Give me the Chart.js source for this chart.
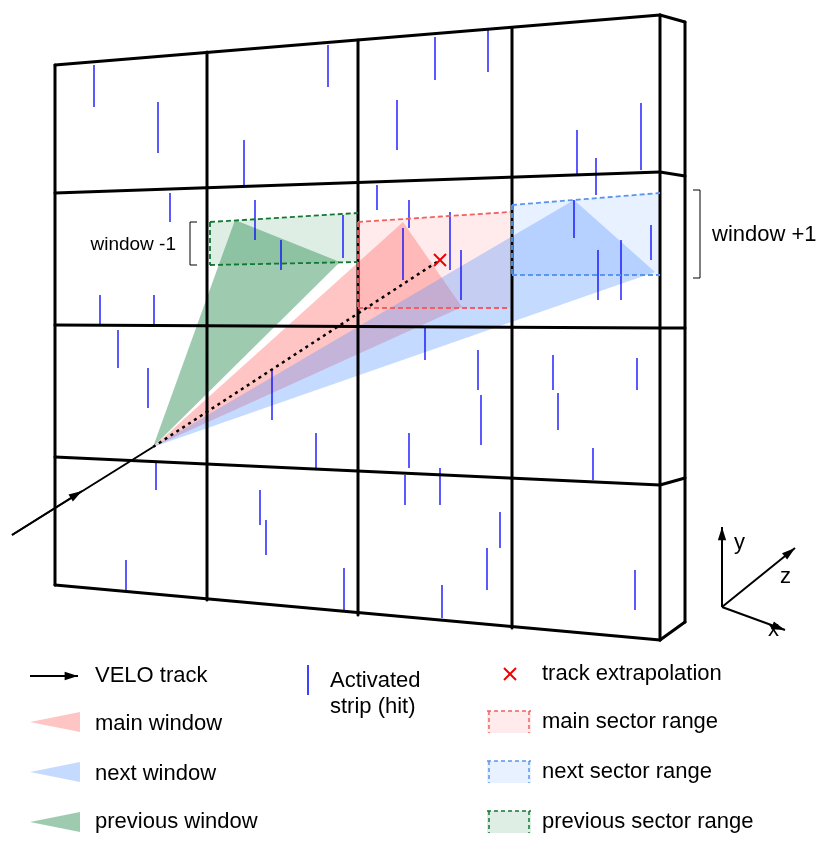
<!DOCTYPE html><html><head><meta charset="utf-8">
<script src="https://cdn.jsdelivr.net/npm/chart.js@4/dist/chart.umd.min.js"></script>
<style>html,body{margin:0;padding:0;background:#fff}#w{width:829px;height:850px}</style></head>
<body><div id="w"><canvas id="c"></canvas></div>
<script>
// frame segments [x1,y1,x2,y2]
const frameLines=[[55,65,660,15],[55,193,660,172],[55,325,660,328],[55,457,660,485],[55,585,660,640],
[55,65,55,585],[207,52,207,600],[358,40,358,615],[512,28,512,628],[660,15,660,640],
[660,15,685,22],[660,172,685,176],[660,328,685,328],[660,485,685,478],[660,640,685,622],[685,22,685,622]];
// activated strips [x,yTop,yBottom]
const strips=[[94,65,107],[158,102,153],[328,45,87],[435,37,80],[488,30,72],[244,140,185],[397,100,150],[577,130,175],[641,103,170],[596,158,195],
[170,193,222],[255,200,240],[343,215,258],[377,185,210],[409,200,228],[403,228,280],[450,212,270],[461,250,300],[574,200,238],[598,250,300],[621,240,300],[651,225,260],[100,295,325],[154,295,325],[281,240,270],
[118,330,368],[148,368,408],[272,370,420],[316,433,468],[425,328,360],[409,433,468],[481,395,445],[478,350,390],[553,355,390],[558,393,430],[637,358,390],[440,468,505],
[156,463,490],[260,490,525],[266,520,555],[405,475,505],[344,568,610],[126,560,590],[500,512,548],[487,548,590],[442,585,618],[635,570,610],[593,448,480]];
const apex=[153,447];
const greenTri=[[235,220],[340,262]], redTri=[[403,222],[462,307]], blueTri=[[574,200],[655,272]];
const greenRect=[[210,222],[358,213],[358,262],[210,265]];
const redRect=[[358,222],[510,212],[510,308],[358,308]];
const blueRect=[[512,205],[660,193],[660,275],[512,275]];
const extrap=[440,260];
const trackStart=[12,535];
const legendLabels=[["VELO track",95,676],["main window",95,724],["next window",95,774],["previous window",95,822],
["Activated",330,681],["strip (hit)",330,707],["track extrapolation",542,674],["main sector range",542,722],["next sector range",542,772],["previous sector range",542,822]];
const G='rgba(40,140,80,0.45)',R='rgba(255,110,110,0.4)',B='rgba(90,150,255,0.35)';
const draw={id:'d',afterDatasetsDraw(ch){
 const c=ch.ctx,X=v=>ch.scales.x.getPixelForValue(v),Y=v=>ch.scales.y.getPixelForValue(v);
 const poly=(pts,fill,stroke,dash)=>{c.beginPath();pts.forEach((p,i)=>i?c.lineTo(X(p[0]),Y(p[1])):c.moveTo(X(p[0]),Y(p[1])));c.closePath();
  if(fill){c.fillStyle=fill;c.fill();} if(stroke){c.setLineDash(dash||[]);c.strokeStyle=stroke;c.lineWidth=1.5;c.stroke();c.setLineDash([]);}};
 const line=(a,b,col,w,dash)=>{c.beginPath();c.setLineDash(dash||[]);c.moveTo(X(a[0]),Y(a[1]));c.lineTo(X(b[0]),Y(b[1]));c.strokeStyle=col;c.lineWidth=w;c.stroke();c.setLineDash([]);};
 const arrow=(a,b,col)=>{line(a,b,col,2);const ang=Math.atan2(Y(b[1])-Y(a[1]),X(b[0])-X(a[0]));const x=X(b[0]),y=Y(b[1]);
  c.beginPath();c.moveTo(x,y);c.lineTo(x-14*Math.cos(ang-0.3),y-14*Math.sin(ang-0.3));c.lineTo(x-14*Math.cos(ang+0.3),y-14*Math.sin(ang+0.3));c.closePath();c.fillStyle=col;c.fill();};
 poly(greenRect,'rgba(40,140,80,0.15)'); poly(redRect,'rgba(255,120,120,0.15)'); poly(blueRect,'rgba(100,160,255,0.15)');
 poly([apex,...greenTri],G); poly([apex,...redTri],R); poly([apex,...blueTri],B);
 strips.forEach(s=>line([s[0],s[1]],[s[0],s[2]],'#0000ff',1.3));
 c.lineCap='round';frameLines.forEach(l=>line([l[0],l[1]],[l[2],l[3]],'#000',3));c.lineCap='butt';
 const dr=(r,col)=>{line(r[0],r[1],col,1.8,[5,3]);line(r[3],r[2],col,1.8,[5,3]);line(r[0],r[3],col,1.8,[5,3]);};
 dr(greenRect,'#117733');dr(redRect,'#f06060');dr(blueRect,'#5a95f0');
 line(apex,extrap,'#000',2.5,[3,4]);
 line(trackStart,apex,'#000',2); arrow(trackStart,[82,491],'#000');
 line([extrap[0]-6,extrap[1]-6],[extrap[0]+6,extrap[1]+6],'#e00',2);line([extrap[0]-6,extrap[1]+6],[extrap[0]+6,extrap[1]-6],'#e00',2);
 c.strokeStyle='#000';c.lineWidth=1;
 c.beginPath();c.moveTo(X(197),Y(222));c.lineTo(X(190),Y(222));c.lineTo(X(190),Y(265));c.lineTo(X(197),Y(265));c.stroke();
 c.beginPath();c.moveTo(X(693),Y(190));c.lineTo(X(700),Y(190));c.lineTo(X(700),Y(278));c.lineTo(X(693),Y(278));c.stroke();
 c.fillStyle='#000';c.textBaseline='middle';c.font='19px "Liberation Sans"';c.textAlign='right';c.fillText('window -1',X(176),Y(245));
 c.textAlign='left';c.font='22px "Liberation Sans"';c.fillText('window +1',X(712),Y(235));
 arrow([722,607],[722,527],'#000');arrow([722,607],[795,548],'#000');arrow([722,607],[785,630],'#000');
 c.fillStyle='#000';c.fillText('y',X(734),Y(543));c.fillText('z',X(780),Y(577));c.fillText('x',X(768),Y(630));
 arrow([30,676],[78,676],'#000');
 poly([[30,722],[80,712],[80,732]],R);poly([[30,772],[80,762],[80,782]],B);poly([[30,822],[80,812],[80,832]],G);
 line([308,665],[308,695],'#0000ff',1.5);
 line([504,668],[516,680],'#e00',2);line([504,680],[516,668],'#e00',2);
 const lr=(y,f,col)=>{poly([[487,y-11],[531,y-11],[531,y+11],[487,y+11]],f);line([487,y-11],[531,y-11],col,1.5,[4,3]);line([489,y-11],[489,y+11],col,1.5,[4,3]);line([529,y-11],[529,y+11],col,1.5,[4,3]);};
 lr(722,'rgba(255,120,120,0.15)','#f06060');lr(772,'rgba(100,160,255,0.15)','#5a95f0');lr(822,'rgba(40,140,80,0.15)','#117733');
 c.fillStyle='#000';c.font='22px "Liberation Sans"';c.textAlign='left';
 legendLabels.forEach(l=>c.fillText(l[0],X(l[1]),Y(l[2])));
}};
new Chart(document.getElementById('c'),{type:'scatter',data:{datasets:[{data:[]}]},
 options:{responsive:true,maintainAspectRatio:false,animation:false,layout:{padding:0},
 plugins:{legend:{display:false},tooltip:{enabled:false}},
 scales:{x:{type:'linear',min:0,max:829,display:false},y:{type:'linear',min:0,max:850,reverse:true,display:false}}},
 plugins:[draw]});
</script></body></html>
